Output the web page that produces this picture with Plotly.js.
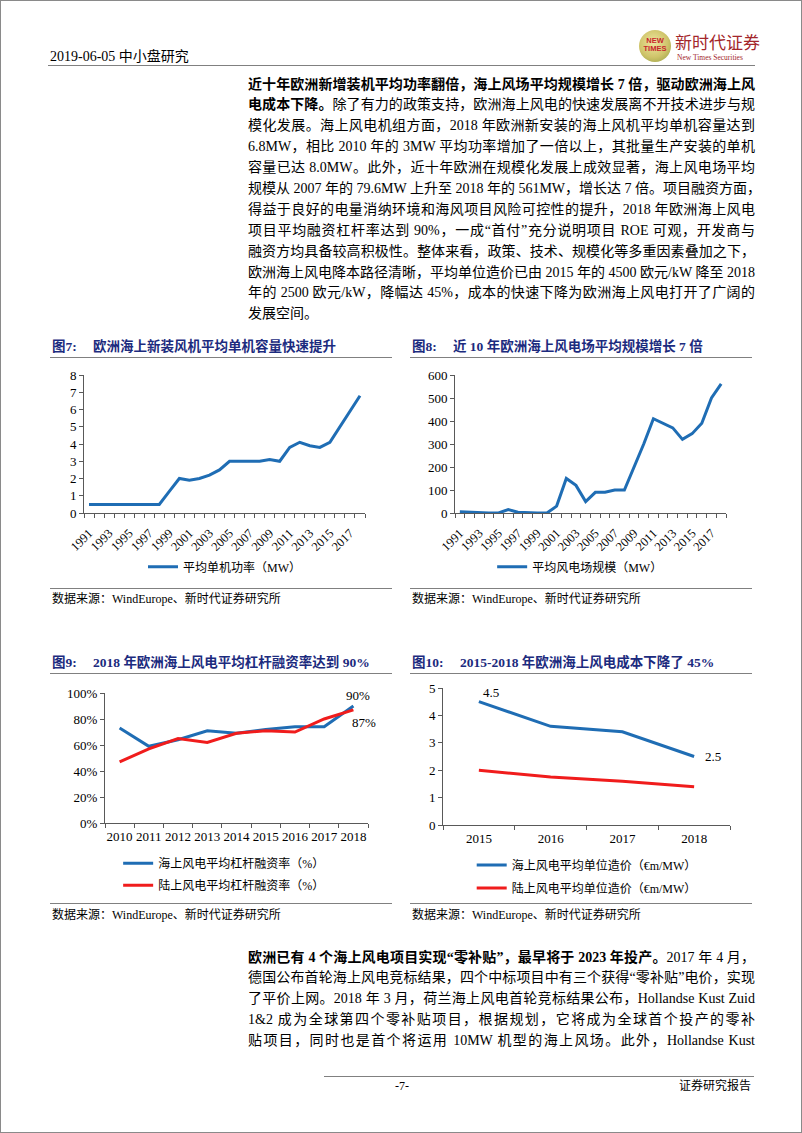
<!DOCTYPE html>
<html><head><meta charset="utf-8">
<script src="https://cdn.plot.ly/plotly-3.0.1.min.js"></script>
<style>
html,body{margin:0;padding:0;background:#fff;}
#page{position:relative;width:802px;height:1133px;overflow:hidden;font-family:"Liberation Serif","Noto Sans CJK SC",serif;color:#000;}
#frame{position:absolute;left:0;top:0;width:802px;height:1133px;box-sizing:border-box;border:1px solid #8a8a8a;}
.abs{position:absolute;white-space:nowrap;}
.rule{position:absolute;height:0;border-top:1px solid #808080;}
.para{position:absolute;left:248px;width:507px;font-size:14px;}
.para div{white-space:nowrap;text-align:justify;text-align-last:justify;height:20.9px;line-height:20.9px;}
.para div.last{text-align-last:left;}
.ftitle{position:absolute;font-size:13.5px;font-weight:bold;color:#1c2b7e;line-height:16px;white-space:nowrap;}
.src{position:absolute;font-size:12px;line-height:14px;white-space:nowrap;}
.chart{position:absolute;}
</style></head>
<body><div id="page">
<div id="frame"></div>

<!-- header -->
<div class="abs" style="left:50px;top:49px;font-size:14px;line-height:16px;">2019-06-05 中小盘研究</div>
<div class="abs" style="left:639px;top:30px;width:32px;height:32px;border-radius:50%;background:radial-gradient(circle at 45% 40%,#efe6a0 0%,#cfc46a 55%,#8f9a3e 100%);"></div>
<div class="abs" style="left:639px;top:37px;width:32px;text-align:center;font-family:'Liberation Sans',sans-serif;font-weight:bold;font-size:7.5px;line-height:8px;color:#c8262b;">NEW<br>TIMES</div>
<div class="abs" style="left:675px;top:34px;font-size:17px;line-height:20px;color:#a3262b;">新时代证券</div>
<div class="abs" style="left:677px;top:53px;font-size:7.5px;line-height:9px;color:#a3262b;">New Times Securities</div>
<div class="rule" style="left:48px;top:65px;width:707px;"></div>

<div class="para" id="p1" style="top:74.5px;"></div>

<!-- figure titles -->
<div class="ftitle" style="left:52px;top:339px;">图7:</div>
<div class="ftitle" style="left:93px;top:339px;">欧洲海上新装风机平均单机容量快速提升</div>
<div class="rule" style="left:50px;top:357px;width:342px;"></div>
<div class="ftitle" style="left:412px;top:339px;">图8:</div>
<div class="ftitle" style="left:453px;top:339px;">近 10 年欧洲海上风电场平均规模增长 7 倍</div>
<div class="rule" style="left:410px;top:357px;width:342px;"></div>

<div class="rule" style="left:50px;top:588px;width:342px;"></div>
<div class="rule" style="left:410px;top:588px;width:342px;"></div>
<div class="src" style="left:52px;top:592px;">数据来源：WindEurope、新时代证券研究所</div>
<div class="src" style="left:412px;top:592px;">数据来源：WindEurope、新时代证券研究所</div>

<div class="ftitle" style="left:52px;top:655px;">图9:</div>
<div class="ftitle" style="left:93px;top:655px;">2018 年欧洲海上风电平均杠杆融资率达到 90%</div>
<div class="rule" style="left:50px;top:673px;width:342px;"></div>
<div class="ftitle" style="left:412px;top:655px;">图10:</div>
<div class="ftitle" style="left:460px;top:655px;">2015-2018 年欧洲海上风电成本下降了 45%</div>
<div class="rule" style="left:410px;top:673px;width:342px;"></div>

<div class="rule" style="left:50px;top:903px;width:342px;"></div>
<div class="rule" style="left:410px;top:903px;width:342px;"></div>
<div class="src" style="left:52px;top:908px;">数据来源：WindEurope、新时代证券研究所</div>
<div class="src" style="left:412px;top:908px;">数据来源：WindEurope、新时代证券研究所</div>

<div class="chart" id="c7" style="left:40px;top:362px;"></div>
<div class="chart" id="c8" style="left:400px;top:362px;"></div>
<div class="chart" id="c9" style="left:40px;top:677px;"></div>
<div class="chart" id="c10" style="left:400px;top:677px;"></div>

<div class="para" id="p2" style="top:947.5px;"></div>

<!-- footer -->
<div class="rule" style="left:324px;top:1076px;width:430px;"></div>
<div class="abs" style="left:392px;top:1079px;font-size:12px;line-height:14px;width:20px;text-align:center;">-7-</div>
<div class="abs" style="left:679px;top:1079px;font-size:12px;line-height:14px;">证券研究报告</div>
</div>

<script>
// ---------- text ----------
const para1 = [
  "<b>近十年欧洲新增装机平均功率翻倍，海上风场平均规模增长 7 倍，驱动欧洲海上风</b>",
  "<b>电成本下降。</b>除了有力的政策支持，欧洲海上风电的快速发展离不开技术进步与规",
  "模化发展。海上风电机组方面，2018 年欧洲新安装的海上风机平均单机容量达到",
  "6.8MW，相比 2010 年的 3MW 平均功率增加了一倍以上，其批量生产安装的单机",
  "容量已达 8.0MW。此外，近十年欧洲在规模化发展上成效显著，海上风电场平均",
  "规模从 2007 年的 79.6MW 上升至 2018 年的 561MW，增长达 7 倍。项目融资方面，",
  "得益于良好的电量消纳环境和海风项目风险可控性的提升，2018 年欧洲海上风电",
  "项目平均融资杠杆率达到 90%，一成“首付”充分说明项目 ROE 可观，开发商与",
  "融资方均具备较高积极性。整体来看，政策、技术、规模化等多重因素叠加之下，",
  "欧洲海上风电降本路径清晰，平均单位造价已由 2015 年的 4500 欧元/kW 降至 2018",
  "年的 2500 欧元/kW，降幅达 45%，成本的快速下降为欧洲海上风电打开了广阔的",
  "发展空间。"
];
const para2 = [
  "<b>欧洲已有 4 个海上风电项目实现“零补贴”，最早将于 2023 年投产。</b>2017 年 4 月，",
  "德国公布首轮海上风电竞标结果，四个中标项目中有三个获得“零补贴”电价，实现",
  "了平价上网。2018 年 3 月，荷兰海上风电首轮竞标结果公布，Hollandse Kust Zuid",
  "1&amp;2 成为全球第四个零补贴项目，根据规划，它将成为全球首个投产的零补",
  "贴项目，同时也是首个将运用 10MW 机型的海上风场。此外，Hollandse Kust"
];
function fillPara(id, lines, lastPlain){
  const el = document.getElementById(id);
  el.innerHTML = lines.map((l,i)=>'<div'+(lastPlain && i===lines.length-1?' class="last"':'')+'>'+l+'</div>').join('');
}
fillPara('p1', para1, true);
fillPara('p2', para2, false);

// ---------- data ----------
const years7 = [1991,1992,1993,1994,1995,1996,1997,1998,1999,2000,2001,2002,2003,2004,2005,2006,2007,2008,2009,2010,2011,2012,2013,2014,2015,2016,2017,2018];
const tickYears7 = [1991,1993,1995,1997,1999,2001,2003,2005,2007,2009,2011,2013,2015,2017];
const unitCapacityMW = [0.5,0.5,0.5,0.5,0.5,0.5,0.5,0.5,1.25,2.0,1.9,2.0,2.2,2.5,3.0,3.0,3.0,3.0,3.1,3.0,3.8,4.1,3.9,3.8,4.1,5.0,5.85,6.8];
const farmSizeMW = [5,3,0,0,0,15,3,0,0,0,30,150,120,50,90,90,100,100,200,300,410,390,370,320,345,390,500,561];

const years9 = [2010,2011,2012,2013,2014,2015,2016,2017,2018];
const offshoreLeverage = [73,59,64,71,69,72,74,74,90];
const onshoreLeverage = [47,57,65,62,69,71,70,80,87];

const years10 = [2015,2016,2017,2018];
const offshoreCost = [4.5,3.6,3.4,2.5];
const onshoreCost = [2.0,1.75,1.6,1.4];

const name7 = "平均单机功率（MW）";
const name8 = "平均风电场规模（MW）";
const name9a = "海上风电平均杠杆融资率（%）";
const name9b = "陆上风电平均杠杆融资率（%）";
const name10a = "海上风电平均单位造价（€m/MW）";
const name10b = "陆上风电平均单位造价（€m/MW）";

const BLUE = "#1f6db4", RED = "#f01c1c", AX = "#595959";
const FONT = {family:'"Liberation Serif","Noto Sans CJK SC",serif', size:13, color:'#000'};
const cfg = {staticPlot:true, displayModeBar:false};

function bounds(yrs){ const b = yrs.map(y=>y-0.5); b.push(yrs[yrs.length-1]+0.5); return b; }
function xAxis(yrs, tv, angle, size, standoff){
  return {range:[yrs[0]-0.5, yrs[yrs.length-1]+0.5], tickmode:'array', tickvals:tv, ticktext:tv.map(String),
    tickangle:angle, ticks:'', showline:true, linecolor:AX, linewidth:1, showgrid:false, zeroline:false,
    tickfont:{size:size}, automargin:false, fixedrange:true, ticklabelstandoff:standoff,
    minor:{tickmode:'array', tickvals:bounds(yrs), ticks:'outside', ticklen:4, tickcolor:AX, tickwidth:1, showgrid:false}};
}
function yAxis(max, dt, suffix){
  return {range:[0,max], tick0:0, dtick:dt, ticks:'outside', ticklen:4, tickcolor:AX, showline:true, linecolor:AX,
    linewidth:1, showgrid:false, zeroline:false, ticksuffix:suffix||'', automargin:false, fixedrange:true, tickfont:{size:13}};
}
function line(x,y,name,color,grp){ return {type:'scatter', mode:'lines', x:x, y:y, name:name, legendgroup:grp||name, line:{color:color, width:3}}; }
const base = {paper_bgcolor:'rgba(0,0,0,0)', plot_bgcolor:'rgba(0,0,0,0)', font:FONT, showlegend:true};

Plotly.newPlot('c7', [line(years7, unitCapacityMW, name7, BLUE)], Object.assign({}, base, {
  width:360, height:240, margin:{l:44, r:35, t:13, b:89, pad:0},
  xaxis:xAxis(years7, tickYears7, -45, 12.5, 7), yaxis:yAxis(8,1),
  legend:{orientation:'h', x:0.5, xanchor:'center', y:-0.39, yanchor:'middle', font:{size:12}}
}), cfg);

Plotly.newPlot('c8', [line(years7, farmSizeMW, name8, BLUE)], Object.assign({}, base, {
  width:400, height:240, margin:{l:55, r:74, t:13, b:89, pad:0},
  xaxis:xAxis(years7, tickYears7, -45, 12.5, 7), yaxis:yAxis(600,100),
  legend:{orientation:'h', x:0.46, xanchor:'center', y:-0.39, yanchor:'middle', font:{size:12}}
}), cfg);

Plotly.newPlot('c9', [line(years9, offshoreLeverage, name9a, BLUE, 'a'), line(years9, onshoreLeverage, name9b, RED, 'b')], Object.assign({}, base, {
  width:360, height:250, margin:{l:65, r:32, t:16, b:104, pad:0},
  xaxis:xAxis(years9, years9, 0, 13, 1), yaxis:yAxis(100,20,'%'),
  legend:{orientation:'v', x:0.05, xanchor:'left', y:-0.198, yanchor:'top', font:{size:12}, traceorder:'grouped', tracegroupgap:3},
  annotations:[
    {x:years9[8], y:offshoreLeverage[8], text:offshoreLeverage[8]+'%', showarrow:false, xshift:5, yshift:11, font:{size:13}},
    {x:years9[8], y:onshoreLeverage[8], text:onshoreLeverage[8]+'%', showarrow:false, xshift:11, yshift:-13, font:{size:13}}
  ]
}), cfg);

Plotly.newPlot('c10', [line(years10, offshoreCost, name10a, BLUE, 'a'), line(years10, onshoreCost, name10b, RED, 'b')], Object.assign({}, base, {
  width:400, height:250, margin:{l:43, r:70, t:11, b:102, pad:0},
  xaxis:xAxis(years10, years10, 0, 13, 1), yaxis:yAxis(5,1),
  legend:{orientation:'v', x:0.1, xanchor:'left', y:-0.187, yanchor:'top', font:{size:12}, traceorder:'grouped', tracegroupgap:4},
  annotations:[
    {x:years10[0], y:offshoreCost[0], text:String(offshoreCost[0]), showarrow:false, xshift:12, yshift:9, font:{size:13}},
    {x:years10[3], y:offshoreCost[3], text:String(offshoreCost[3]), showarrow:false, xshift:19, yshift:0, font:{size:13}}
  ]
}), cfg);
</script>
</body></html>
